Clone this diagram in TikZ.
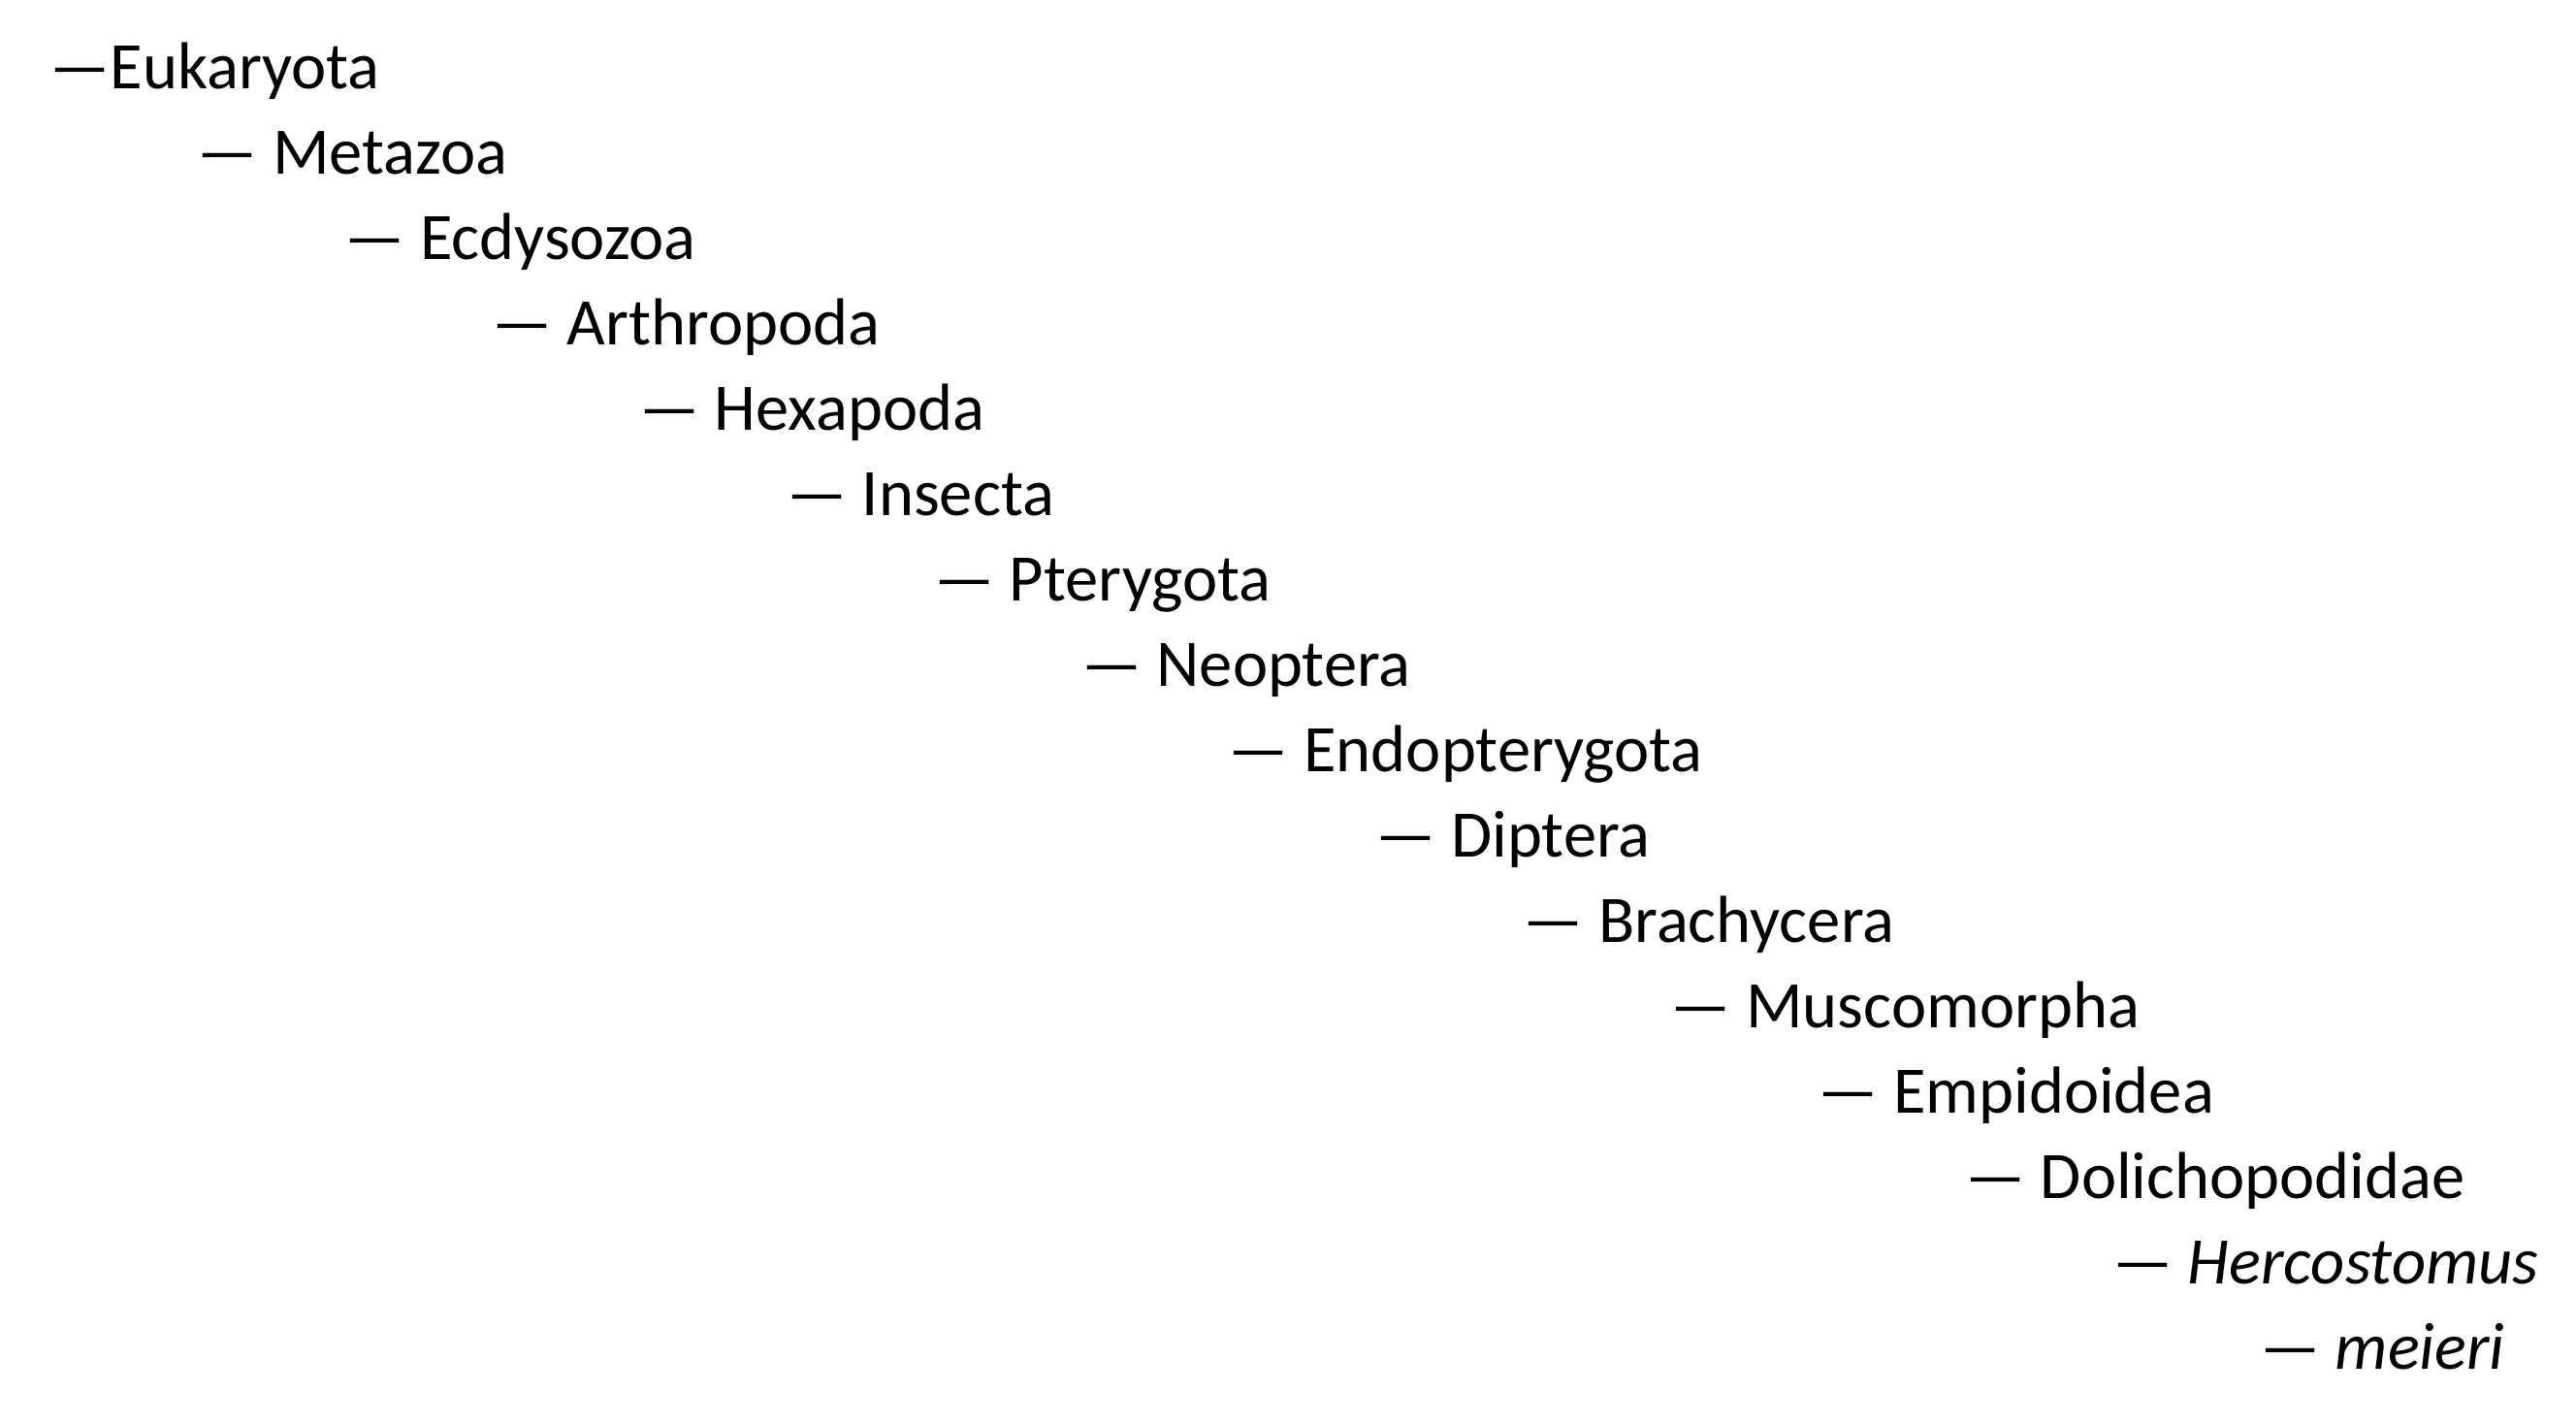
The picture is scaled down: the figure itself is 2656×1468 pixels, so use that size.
\documentclass[tikz,border=0pt]{standalone}
\usepackage{fontspec}
\setmainfont{Carlito}
\begin{document}
\begin{tikzpicture}[x=0.01cm,y=-0.01cm,
  taxon/.style={anchor=base west,inner sep=0pt,font=\fontsize{19.5}{23}\selectfont}]
\useasboundingbox (0,0) rectangle (2656,1468);
\foreach \t [count=\i from 0] in {{—Eukaryota},{— Metazoa},{— Ecdysozoa},{— Arthropoda},{— Hexapoda},{— Insecta},{— Pterygota},{— Neoptera},{— Endopterygota},{— Diptera},{— Brachycera},{— Muscomorpha},{— Empidoidea},{— Dolichopodidae},{— \textit{Hercostomus}},{— \textit{meieri}}}
  \node[taxon] (n\i) at (51+151.9*\i, 91+88*\i) {\t};
\end{tikzpicture}
\end{document}
